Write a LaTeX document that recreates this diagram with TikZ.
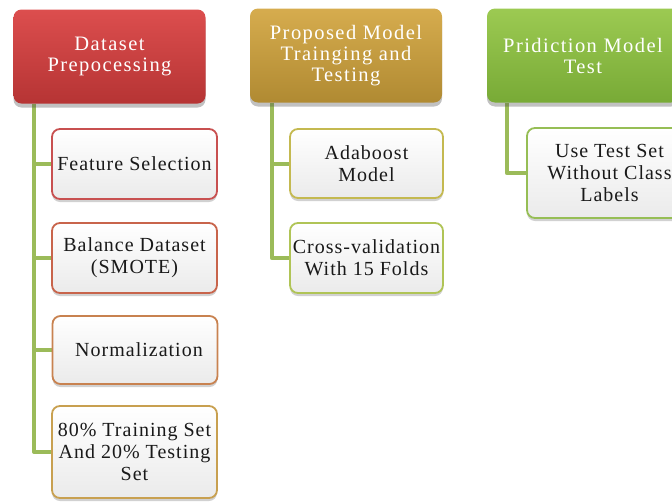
\documentclass[tikz,border=0pt]{standalone}
\usepackage{fontspec}
\setmainfont{Liberation Serif}[LetterSpace=5]
\usetikzlibrary{shadows,backgrounds}
\definecolor{conncol}{RGB}{155,187,89}
\definecolor{redtop}{RGB}{220,78,78}
\definecolor{redbot}{RGB}{182,52,52}
\definecolor{goldtop}{RGB}{214,172,78}
\definecolor{goldbot}{RGB}{176,138,50}
\definecolor{greentop}{RGB}{156,202,82}
\definecolor{greenbot}{RGB}{120,170,54}
\definecolor{bfs}{RGB}{200,80,80}
\definecolor{bbd}{RGB}{200,100,75}
\definecolor{bnm}{RGB}{200,130,80}
\definecolor{btr}{RGB}{200,160,80}
\definecolor{bad}{RGB}{196,185,80}
\definecolor{bcv}{RGB}{176,196,86}
\definecolor{but}{RGB}{150,190,85}
\definecolor{txt}{RGB}{25,25,25}
\begin{document}
\begin{tikzpicture}[x=1pt,y=-1pt,
  topbox/.style={rounded corners=8pt, minimum width=192pt, minimum height=94pt,
    inner sep=0pt, align=center, text=white,
    font=\fontsize{20.5}{21}\selectfont\addfontfeatures{LetterSpace=7},
    drop shadow={shadow xshift=0pt, shadow yshift=-4pt, opacity=0.35, fill=black!70}},
  childbox/.style={rounded corners=8pt, minimum width=165pt, minimum height=70pt,
    inner sep=0pt, align=center, text=txt, line width=1.8pt,
    top color=white, bottom color=black!8,
    font=\fontsize{20}{22}\selectfont,
    drop shadow={shadow xshift=0pt, shadow yshift=-3pt, opacity=0.3, fill=black!60}},
  conn/.style={draw=conncol, line width=4pt, line join=round}]
\useasboundingbox (0,0) rectangle (672,501);
% top boxes
\node[topbox, top color=redtop, bottom color=redbot] (red) at (109.5,56.5) {Dataset\\Prepocessing};
\node[topbox, top color=goldtop, bottom color=goldbot] (gold) at (346,55.5) {Proposed Model\\Trainging and\\Testing};
\node[topbox, top color=greentop, bottom color=greenbot] (green) at (583,55.5) {Pridiction Model\\Test};
% children
\node[childbox, draw=bfs] (fs) at (134.5,164) {Feature Selection};
\node[childbox, draw=bbd] (bd) at (134.5,258) {Balance Dataset\\(SMOTE)};
\node[childbox, draw=bnm, minimum height=68pt] (nm) at (135,350) {\hspace*{8pt}Normalization};
\node[childbox, draw=btr, minimum height=92pt] (tr) at (134.5,452) {80\% Training Set\\And 20\% Testing\\Set};
\node[childbox, draw=bad, minimum width=153pt, minimum height=69pt] (ad) at (366.5,163.5) {Adaboost\\Model};
\node[childbox, draw=bcv, minimum width=153pt] (cv) at (366.5,258) {Cross-validation\\With 15 Folds};
\node[childbox, draw=but, minimum height=90pt] (ut) at (609.5,173) {Use Test Set\\Without Class\\Labels};
% connectors
\begin{scope}[on background layer]
\draw[conn] ([xshift=21pt]red.south west) |- (fs.west);
\draw[conn] ([xshift=21pt]red.south west) |- (bd.west);
\draw[conn] ([xshift=21pt]red.south west) |- (nm.west);
\draw[conn] ([xshift=21pt]red.south west) |- (tr.west);
\draw[conn] ([xshift=22pt]gold.south west) |- (ad.west);
\draw[conn] ([xshift=22pt]gold.south west) |- (cv.west);
\draw[conn] ([xshift=20pt]green.south west) |- (ut.west);
\end{scope}
\end{tikzpicture}
\end{document}
